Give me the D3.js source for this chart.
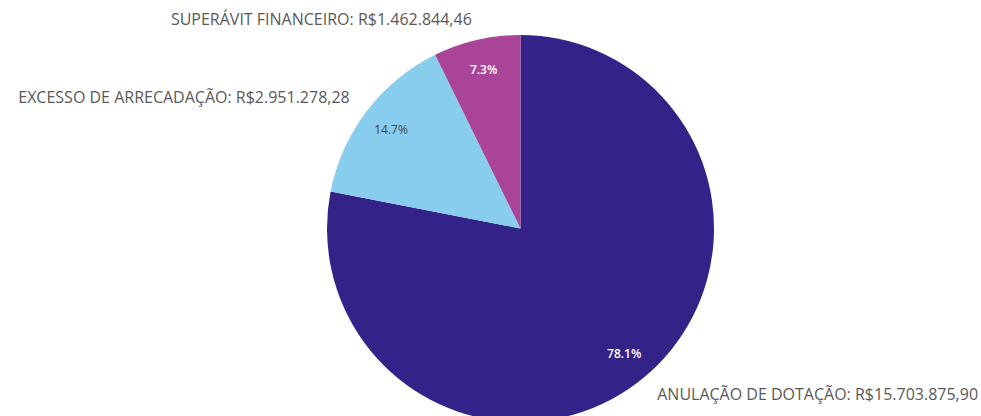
<!DOCTYPE html>
<html>
<head>
<meta charset="utf-8">
<script src="https://cdn.jsdelivr.net/npm/d3@7"></script>
<style>
  body { margin: 0; background: #fff; }
  text { font-family: "Open Sans", "Noto Sans", sans-serif; }
</style>
</head>
<body>
<svg id="chart" width="981" height="416"></svg>
<script>
// data
var categories = ['ANULAÇÃO DE DOTAÇÃO', 'EXCESSO DE ARRECADAÇÃO', 'SUPERÁVIT FINANCEIRO'];
var values = [15703875.90, 2951278.28, 1462844.46];
var colors = ['#332288', '#88CCEE', '#AA4499'];
var pctColors = ['#ffffff', '#444444', '#ffffff'];

var center = {'x': 520.5, 'y': 228.5};
var radius = 193.5;

var svg = d3.select('#chart');
var g = svg.append('g').attr('transform', 'translate(' + center.x + ',' + center.y + ')');

var total = d3.sum(values);
var pie = d3.pie().sort(null).value(function (d) { return d; });
var arcs = pie(values);

var arc = d3.arc().innerRadius(0).outerRadius(radius);
var pctArc = d3.arc().innerRadius(163).outerRadius(163);
var labelArc = d3.arc().innerRadius(215).outerRadius(215);

g.selectAll('path.slice')
    .data(arcs)
  .enter().append('path')
    .attr('class', 'slice')
    .attr('d', arc)
    .attr('fill', function (d, i) { return colors[i]; });

// percent labels inside
g.selectAll('text.pct')
    .data(arcs)
  .enter().append('text')
    .attr('class', 'pct')
    .attr('transform', function (d) { return 'translate(' + pctArc.centroid(d) + ')'; })
    .attr('text-anchor', 'middle')
    .attr('dy', '0.35em')
    .style('font-size', '12px')
    .style('font-weight', function (d, i) { return i === 1 ? 400 : 600; })
    .attr('fill', function (d, i) { return pctColors[i]; })
    .text(function (d) { return (d.value / total * 100).toFixed(1) + '%'; });

// brazilian money format
var brl = d3.formatLocale({decimal: ',', thousands: '.', grouping: [3], currency: ['R$', '']});
var fmt = brl.format('$,.2f');

// outer labels
g.selectAll('text.lbl')
    .data(arcs)
  .enter().append('text')
    .attr('class', 'lbl')
    .attr('transform', function (d) { return 'translate(' + labelArc.centroid(d) + ')'; })
    .attr('text-anchor', function (d) {
        var mid = (d.startAngle + d.endAngle) / 2;
        return mid < Math.PI ? 'start' : 'end';
    })
    .attr('dy', '0.35em')
    .style('font-size', '16px')
    .attr('fill', '#595959')
    .text(function (d, i) { return categories[i] + ': ' + fmt(d.value); });
</script>
</body>
</html>
